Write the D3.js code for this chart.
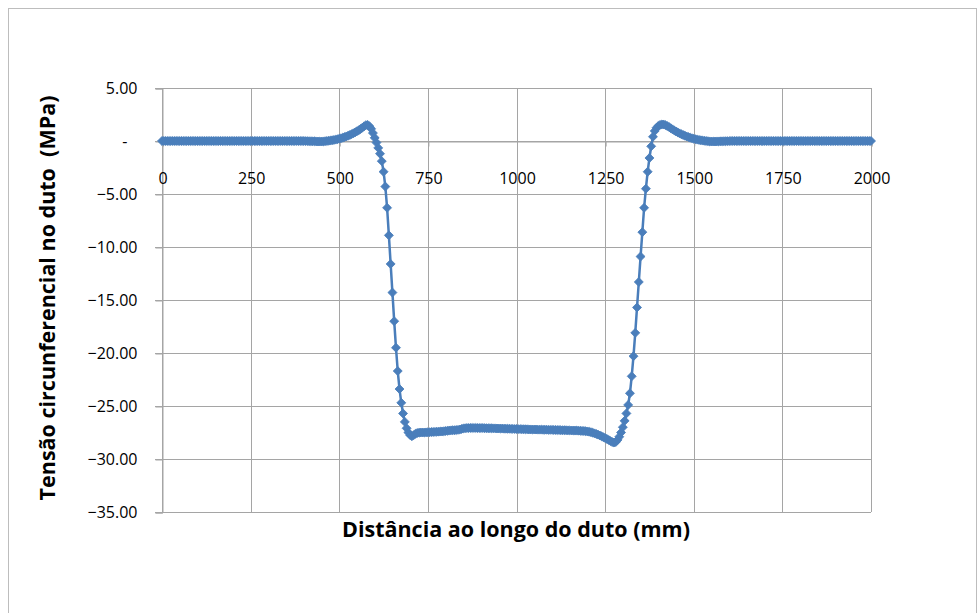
<!DOCTYPE html>
<html>
<head>
<meta charset="utf-8">
<script src="https://cdn.jsdelivr.net/npm/d3@7"></script>
<style>
  body { margin: 0; background: #fff; }
  svg { display: block; }
</style>
</head>
<body>
<div class="chart"></div>
<script>
// distance along the pipe (mm)
var distancia = [
  0, 5, 10, 15, 20, 25, 30, 35, 40, 45, 50, 55, 60, 65, 70, 75, 80, 85, 90, 95,
  100, 105, 110, 115, 120, 125, 130, 135, 140, 145, 150, 155, 160, 165, 170, 175, 180, 185, 190, 195,
  200, 205, 210, 215, 220, 225, 230, 235, 240, 245, 250, 255, 260, 265, 270, 275, 280, 285, 290, 295,
  300, 305, 310, 315, 320, 325, 330, 335, 340, 345, 350, 355, 360, 365, 370, 375, 380, 385, 390, 395,
  400, 405, 410, 415, 420, 425, 430, 435, 440, 445, 450, 455, 460, 465, 470, 475, 480, 485, 490, 495,
  500, 505, 510, 515, 520, 525, 530, 535, 540, 545, 550, 555, 560, 565, 570, 575, 580, 585, 590, 595,
  600, 605, 610, 615, 620, 625, 630, 635, 640, 645, 650, 655, 660, 665, 670, 675, 680, 685, 690, 695,
  700, 705, 710, 715, 720, 725, 730, 735, 740, 745, 750, 755, 760, 765, 770, 775, 780, 785, 790, 795,
  800, 805, 810, 815, 820, 825, 830, 835, 840, 845, 850, 855, 860, 865, 870, 875, 880, 885, 890, 895,
  900, 905, 910, 915, 920, 925, 930, 935, 940, 945, 950, 955, 960, 965, 970, 975, 980, 985, 990, 995,
  1000, 1005, 1010, 1015, 1020, 1025, 1030, 1035, 1040, 1045, 1050, 1055, 1060, 1065, 1070, 1075, 1080, 1085, 1090, 1095,
  1100, 1105, 1110, 1115, 1120, 1125, 1130, 1135, 1140, 1145, 1150, 1155, 1160, 1165, 1170, 1175, 1180, 1185, 1190, 1195,
  1200, 1205, 1210, 1215, 1220, 1225, 1230, 1235, 1240, 1245, 1250, 1255, 1260, 1265, 1270, 1275, 1280, 1285, 1290, 1295,
  1300, 1305, 1310, 1315, 1320, 1325, 1330, 1335, 1340, 1345, 1350, 1355, 1360, 1365, 1370, 1375, 1380, 1385, 1390, 1395,
  1400, 1405, 1410, 1415, 1420, 1425, 1430, 1435, 1440, 1445, 1450, 1455, 1460, 1465, 1470, 1475, 1480, 1485, 1490, 1495,
  1500, 1505, 1510, 1515, 1520, 1525, 1530, 1535, 1540, 1545, 1550, 1555, 1560, 1565, 1570, 1575, 1580, 1585, 1590, 1595,
  1600, 1605, 1610, 1615, 1620, 1625, 1630, 1635, 1640, 1645, 1650, 1655, 1660, 1665, 1670, 1675, 1680, 1685, 1690, 1695,
  1700, 1705, 1710, 1715, 1720, 1725, 1730, 1735, 1740, 1745, 1750, 1755, 1760, 1765, 1770, 1775, 1780, 1785, 1790, 1795,
  1800, 1805, 1810, 1815, 1820, 1825, 1830, 1835, 1840, 1845, 1850, 1855, 1860, 1865, 1870, 1875, 1880, 1885, 1890, 1895,
  1900, 1905, 1910, 1915, 1920, 1925, 1930, 1935, 1940, 1945, 1950, 1955, 1960, 1965, 1970, 1975, 1980, 1985, 1990, 1995,
  2000
];

// hoop stress in the pipe (MPa)
var tensao = [
  0, 0, 0, 0, 0, 0, 0, 0, 0, 0, 0, 0, 0, 0, 0, 0, 0, 0, 0, 0,
  0, 0, 0, 0, 0, 0, 0, 0, 0, 0, 0, 0, 0, 0, 0, 0, 0, 0, 0, 0,
  0, 0, 0, 0, 0, 0, 0, 0, 0, 0, 0, 0, 0, 0, 0, 0, 0, 0, 0, 0,
  0, 0, 0, 0, 0, 0, 0, 0, 0, 0, 0, 0, 0, 0, 0, 0, 0, 0, 0, 0,
  0, -0.01, -0.01, -0.02, -0.02, -0.03, -0.03, -0.04, -0.05, -0.05, -0.05, -0.04, -0.02, 0.00, 0.02, 0.04, 0.07, 0.10, 0.13, 0.17,
  0.21, 0.26, 0.31, 0.37, 0.43, 0.50, 0.57, 0.65, 0.73, 0.82, 0.92, 1.02, 1.13, 1.25, 1.38, 1.50, 1.52, 1.40, 1.15, 0.75,
  0.30, -0.15, -0.65, -1.20, -1.90, -2.90, -4.30, -6.30, -8.90, -11.60, -14.30, -17.00, -19.50, -21.70, -23.40, -24.70, -25.70, -26.50, -27.10, -27.50,
  -27.75, -27.85, -27.75, -27.62, -27.55, -27.52, -27.50, -27.50, -27.50, -27.49, -27.48, -27.47, -27.46, -27.45, -27.44, -27.43, -27.42, -27.41, -27.40, -27.38,
  -27.36, -27.34, -27.32, -27.30, -27.29, -27.28, -27.27, -27.25, -27.22, -27.17, -27.12, -27.10, -27.08, -27.08, -27.07, -27.07, -27.07, -27.07, -27.08, -27.08,
  -27.08, -27.08, -27.09, -27.09, -27.10, -27.10, -27.10, -27.11, -27.11, -27.12, -27.12, -27.13, -27.13, -27.14, -27.14, -27.15, -27.15, -27.16, -27.16, -27.17,
  -27.17, -27.18, -27.18, -27.19, -27.19, -27.20, -27.20, -27.21, -27.21, -27.22, -27.22, -27.22, -27.23, -27.23, -27.23, -27.24, -27.24, -27.24, -27.25, -27.25,
  -27.25, -27.26, -27.26, -27.27, -27.27, -27.28, -27.28, -27.29, -27.29, -27.30, -27.30, -27.31, -27.31, -27.32, -27.32, -27.33, -27.34, -27.35, -27.36, -27.38,
  -27.40, -27.43, -27.47, -27.52, -27.58, -27.64, -27.70, -27.78, -27.86, -27.94, -28.02, -28.11, -28.21, -28.31, -28.40, -28.45, -28.40, -28.20, -27.90, -27.50,
  -27.00, -26.40, -25.70, -24.90, -23.80, -22.20, -20.30, -18.10, -15.70, -13.30, -10.90, -8.60, -6.30, -4.50, -2.90, -1.60, -0.50, 0.40, 0.95, 1.25,
  1.42, 1.52, 1.56, 1.56, 1.50, 1.42, 1.32, 1.21, 1.10, 1.00, 0.90, 0.81, 0.72, 0.64, 0.57, 0.50, 0.43, 0.37, 0.31, 0.26,
  0.21, 0.17, 0.13, 0.10, 0.07, 0.04, 0.02, 0.00, -0.02, -0.04, -0.05, -0.05, -0.05, -0.04, -0.04, -0.03, -0.03, -0.02, -0.02, -0.01,
  -0.01, 0, 0, 0, 0, 0, 0, 0, 0, 0, 0, 0, 0, 0, 0, 0, 0, 0, 0, 0,
  0, 0, 0, 0, 0, 0, 0, 0, 0, 0, 0, 0, 0, 0, 0, 0, 0, 0, 0, 0,
  0, 0, 0, 0, 0, 0, 0, 0, 0, 0, 0, 0, 0, 0, 0, 0, 0, 0, 0, 0,
  0, 0, 0, 0, 0, 0, 0, 0, 0, 0, 0, 0, 0, 0, 0, 0, 0, 0, 0, 0,
  0
];

var xTicks = [0, 250, 500, 750, 1000, 1250, 1500, 1750, 2000];
var yTicks = [5, 0, -5, -10, -15, -20, -25, -30, -35];

var xTitle = "Distância ao longo do duto (mm)";
var yTitle = "Tensão circunferencial no duto  (MPa)";

var svgWidth = 978;
var svgHeight = 613;

var plot = { left: 162, right: 871, top: 88, bottom: 512 };

var gridColor = "#a5a5a5";
var lineColor = "#4a7ebb";
var font = "'Open Sans', 'DejaVu Sans', sans-serif";

var data = distancia.map(function(d, i) {
    return { x: d, y: tensao[i] };
});

var svg = d3.select(".chart")
    .append("svg")
    .attr("width", svgWidth)
    .attr("height", svgHeight);

// chart area border
svg.append("rect")
    .attr("x", 8.5)
    .attr("y", 8.5)
    .attr("width", 968)
    .attr("height", 700)
    .attr("fill", "#fff")
    .attr("stroke", "#bdbdbd");

var xScale = d3.scaleLinear()
    .domain([0, 2000])
    .range([plot.left, plot.right]);

var yScale = d3.scaleLinear()
    .domain([-35, 5])
    .range([plot.bottom, plot.top]);

// horizontal gridlines (with the little tick sticking out on the left)
svg.append("g")
    .selectAll("line")
    .data(yTicks)
    .enter()
    .append("line")
    .attr("x1", plot.left - 7)
    .attr("x2", plot.right)
    .attr("y1", d => Math.round(yScale(d)) + 0.5)
    .attr("y2", d => Math.round(yScale(d)) + 0.5)
    .attr("stroke", gridColor)
    .attr("stroke-width", 1);

// vertical gridlines
svg.append("g")
    .selectAll("line")
    .data(xTicks)
    .enter()
    .append("line")
    .attr("x1", d => Math.round(xScale(d)) + 0.5)
    .attr("x2", d => Math.round(xScale(d)) + 0.5)
    .attr("y1", plot.top)
    .attr("y2", plot.bottom)
    .attr("stroke", gridColor)
    .attr("stroke-width", 1);

// y axis
var leftAxis = d3.axisLeft(yScale)
    .tickValues(yTicks)
    .tickSize(7)
    .tickPadding(18)
    .tickFormat(d => d === 0 ? "-" : d3.format(".2f")(d));

var yAxisG = svg.append("g")
    .attr("transform", `translate(${plot.left + 0.5}, 0.5)`)
    .call(leftAxis);

yAxisG.select(".domain").attr("stroke", gridColor);
yAxisG.selectAll(".tick line").attr("stroke", gridColor);
yAxisG.selectAll(".tick text")
    .attr("font-family", font)
    .attr("font-size", "16px")
    .attr("fill", "#000")
    .attr("dx", d => d === 0 ? -10 : 0);

// x axis sits on the zero line, labels just below it
var bottomAxis = d3.axisBottom(xScale)
    .tickValues(xTicks)
    .tickSize(5)
    .tickPadding(26)
    .tickFormat(d3.format("d"));

var xAxisG = svg.append("g")
    .attr("transform", `translate(0.5, ${Math.round(yScale(0)) + 0.5})`)
    .call(bottomAxis);

xAxisG.select(".domain").attr("stroke", gridColor);
xAxisG.selectAll(".tick line").attr("stroke", gridColor);
xAxisG.selectAll(".tick text")
    .attr("font-family", font)
    .attr("font-size", "16px")
    .attr("fill", "#000");

// series line
var line = d3.line()
    .x(d => xScale(d.x))
    .y(d => yScale(d.y));

svg.append("path")
    .datum(data)
    .attr("d", line)
    .attr("fill", "none")
    .attr("stroke", lineColor)
    .attr("stroke-width", 2.5)
    .attr("stroke-linejoin", "round");

// diamond markers
var diamond = d3.symbol().type(d3.symbolSquare).size(40);

svg.append("g")
    .selectAll("path")
    .data(data)
    .enter()
    .append("path")
    .attr("d", diamond)
    .attr("transform", d => `translate(${xScale(d.x)}, ${yScale(d.y)}) rotate(45)`)
    .attr("fill", lineColor)
    .attr("stroke", lineColor)
    .attr("stroke-width", 0.8);

// axis titles, font size fitted to the width seen in the original
function fitText(sel, target) {
    var len = sel.node().getComputedTextLength();
    var size = parseFloat(sel.attr("font-size"));
    sel.attr("font-size", (size * target / len).toFixed(2) + "px");
}

var xt = svg.append("text")
    .attr("x", 516)
    .attr("y", 537)
    .attr("text-anchor", "middle")
    .attr("font-family", font)
    .attr("font-weight", "bold")
    .attr("font-size", "19px")
    .attr("fill", "#000")
    .text(xTitle);
fitText(xt, 348);

var yt = svg.append("text")
    .attr("transform", "translate(55, 298) rotate(-90)")
    .attr("text-anchor", "middle")
    .attr("font-family", font)
    .attr("font-weight", "bold")
    .attr("font-size", "19px")
    .attr("fill", "#000")
    .style("white-space", "pre")
    .text(yTitle);
fitText(yt, 405);
</script>
</body>
</html>
